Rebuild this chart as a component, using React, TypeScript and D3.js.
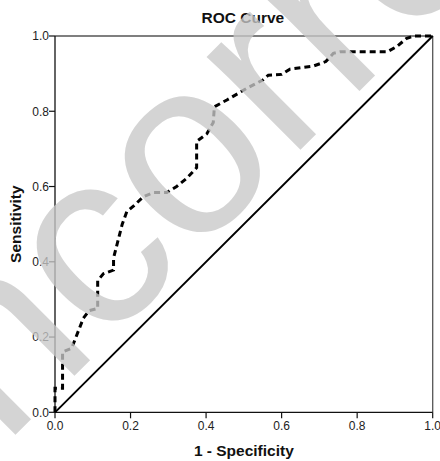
import React from "react";
import * as d3 from "d3";

const fpr = [0, 0, 0.02, 0.02, 0.044, 0.075, 0.09, 0.113, 0.113, 0.128, 0.155, 0.155, 0.178, 0.19, 0.21, 0.234, 0.26, 0.296, 0.322, 0.349, 0.375, 0.375, 0.402, 0.419, 0.422, 0.455, 0.508, 0.55, 0.565, 0.6, 0.622, 0.684, 0.717, 0.737, 0.755, 0.88, 0.905, 0.93, 0.95, 1];
const tpr = [0, 0.064, 0.064, 0.16, 0.17, 0.25, 0.27, 0.276, 0.35, 0.368, 0.378, 0.41, 0.5, 0.533, 0.55, 0.573, 0.584, 0.584, 0.6, 0.622, 0.65, 0.72, 0.74, 0.77, 0.812, 0.83, 0.861, 0.883, 0.896, 0.898, 0.912, 0.92, 0.932, 0.954, 0.958, 0.958, 0.972, 0.993, 1, 1];
const refX = [0, 1];
const refY = [0, 1];
const ticks = [0, 0.2, 0.4, 0.6, 0.8, 1.0];
const title = "ROC Curve";
const xTitle = "1 - Specificity";
const yTitle = "Sensitivity";
const watermark = "Incorrect";

const W = 440;
const H = 461;
const m = { left: 55, right: 7.3, top: 36, bottom: 48.7 };
const FONT = "'Liberation Sans', Arial, Helvetica, sans-serif";

export default function App() {
  const x = d3.scaleLinear().domain([0, 1]).range([m.left, W - m.right]);
  const y = d3.scaleLinear().domain([0, 1]).range([H - m.bottom, m.top]);
  const line = d3
    .line<number>()
    .x((_, i) => x(fpr[i]))
    .y((_, i) => y(tpr[i]));
  const refLine = d3
    .line<number>()
    .x((_, i) => x(refX[i]))
    .y((_, i) => y(refY[i]));
  const fmt = d3.format(".1f");
  const x0 = x(0), x1 = x(1), y0 = y(0), y1 = y(1);
  return (
    <svg
      width={W}
      height={H}
      style={{ position: "absolute", left: 0, top: 0, background: "#fff" }}
      fontFamily={FONT}
    >
      <rect x={0} y={0} width={W} height={H} fill="#fff" />
      <text x={(x0 + x1) / 2 - 1} y={23} textAnchor="middle" fontSize={15.5} fontWeight="bold" fill="#111">
        {title}
      </text>
      {/* frame */}
      <line x1={x0} x2={x1} y1={y1} y2={y1} stroke="#555" strokeWidth={1.3} />
      <line x1={x1} x2={x1} y1={y1} y2={y0} stroke="#555" strokeWidth={1.3} />
      <line x1={x0} x2={x0} y1={y1} y2={y0} stroke="#111" strokeWidth={1.3} />
      <line x1={x0} x2={x1} y1={y0} y2={y0} stroke="#111" strokeWidth={1.3} />
      {ticks.map((t) => (
        <g key={"x" + t}>
          <line x1={x(t)} x2={x(t)} y1={y0} y2={y0 + 6} stroke="#111" strokeWidth={1.2} />
          <text x={x(t)} y={y0 + 18} textAnchor="middle" fontSize={12} fill="#222">
            {fmt(t)}
          </text>
        </g>
      ))}
      {ticks.map((t) => (
        <g key={"y" + t}>
          <line x1={x0 - 6} x2={x0} y1={y(t)} y2={y(t)} stroke="#111" strokeWidth={1.2} />
          <text x={x0 - 6} y={y(t) + 4.3} textAnchor="end" fontSize={12} fill="#222">
            {fmt(t)}
          </text>
        </g>
      ))}
      <text x={(x0 + x1) / 2} y={456} textAnchor="middle" fontSize={15.5} fontWeight="bold" fill="#111">
        {xTitle}
      </text>
      <text
        transform={`translate(21,${(y0 + y1) / 2}) rotate(-90)`}
        textAnchor="middle"
        fontSize={15.5}
        fontWeight="bold"
        fill="#111"
      >
        {yTitle}
      </text>
      <path d={refLine(refX) || ""} fill="none" stroke="#000" strokeWidth={1.9} />
      <path d={line(fpr) || ""} fill="none" stroke="#000" strokeWidth={3} strokeDasharray="6,4" />
      <text
        transform="translate(-45.8,496.2) rotate(-45)"
        fontSize={250}
        fill="rgb(200,200,200)"
        fillOpacity={0.78}
      >
        {watermark}
      </text>
    </svg>
  );
}
